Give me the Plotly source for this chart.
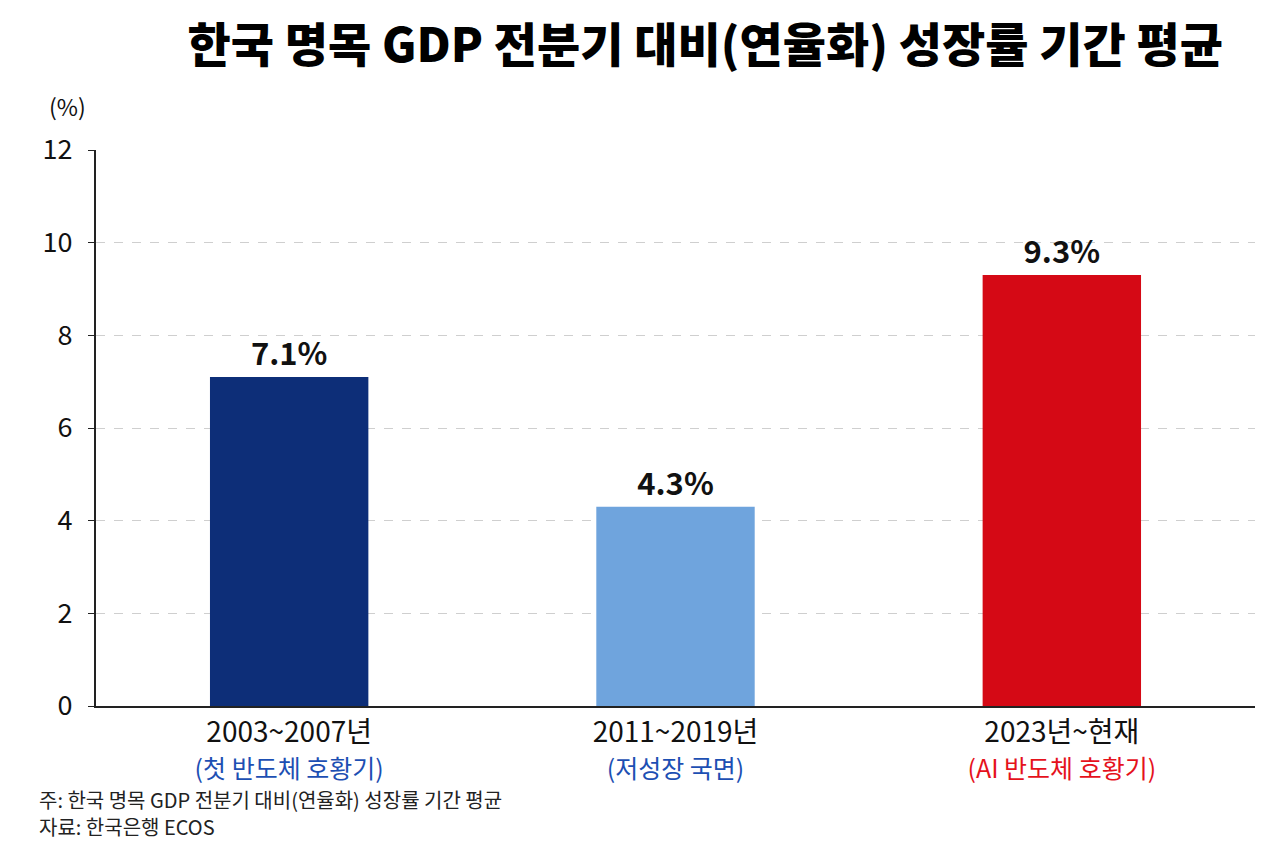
import plotly.graph_objects as go

periods = ["2003~2007년", "2011~2019년", "2023년~현재"]
phases = ["(첫 반도체 호황기)", "(저성장 국면)", "(AI 반도체 호황기)"]
growth = [7.1, 4.3, 9.3]
labels = ["7.1%", "4.3%", "9.3%"]
bar_colors = ["#0d2e78", "#6fa4dd", "#d50915"]
phase_colors = ["#1d4fb3", "#1d4fb3", "#e5121c"]
y_ticks = [0, 2, 4, 6, 8, 10, 12]
notes = ["주: 한국 명목 GDP 전분기 대비(연율화) 성장률 기간 평균", "자료: 한국은행 ECOS"]

FONT = "Noto Sans CJK KR"

ticktext = [
    f"{p}<br><span style='color:{c};font-size:25px'>{ph}</span>"
    for p, ph, c in zip(periods, phases, phase_colors)
]

fig = go.Figure(
    go.Bar(
        x=periods,
        y=growth,
        marker=dict(color=bar_colors, line=dict(width=0)),
        text=labels,
        textposition="outside",
        textfont=dict(family=FONT, size=31, color="#111111", weight="bold"),
        cliponaxis=False,
        width=0.41,
    )
)

note_annotations = [
    dict(
        text=t,
        xref="paper", yref="paper",
        x=-0.051, y=yy,
        xanchor="left", yanchor="middle",
        align="left",
        showarrow=False,
        font=dict(family=FONT, size=20, color="#222222"),
    )
    for t, yy in zip(notes, [-0.169, -0.216])
]

fig.update_layout(
    width=1280,
    height=853,
    paper_bgcolor="white",
    plot_bgcolor="white",
    margin=dict(l=96, r=25, t=150, b=147),
    showlegend=False,
    font=dict(family=FONT, color="#111111"),
    title=dict(
        text="한국 명목 GDP 전분기 대비(연율화) 성장률 기간 평균",
        x=0.551,
        xanchor="center",
        y=0.947,
        yanchor="middle",
        font=dict(family=FONT, size=47, color="#000000", weight=900),
    ),
    xaxis=dict(
        tickvals=periods,
        ticktext=ticktext,
        tickfont=dict(family=FONT, size=28, color="#111111"),
        showline=True,
        linecolor="#222222",
        linewidth=2,
        ticks="",
        showgrid=False,
        ticklabelstandoff=0,
    ),
    yaxis=dict(
        range=[0, 12],
        tickvals=y_ticks,
        tickfont=dict(family=FONT, size=27, color="#111111"),
        showline=True,
        linecolor="#222222",
        linewidth=2,
        ticks="outside",
        ticklen=6,
        tickcolor="#222222",
        ticklabelstandoff=10,
        showgrid=True,
        gridcolor="#cfcfcf",
        griddash="dash",
        gridwidth=1,
        zeroline=False,
    ),
    annotations=[
        dict(
            text="(%)",
            xref="paper", yref="paper",
            x=-0.025, y=1.079,
            xanchor="center", yanchor="middle",
            showarrow=False,
            font=dict(family=FONT, size=23, color="#111111"),
        ),
    ] + note_annotations,
)

fig.write_html("out.html")
